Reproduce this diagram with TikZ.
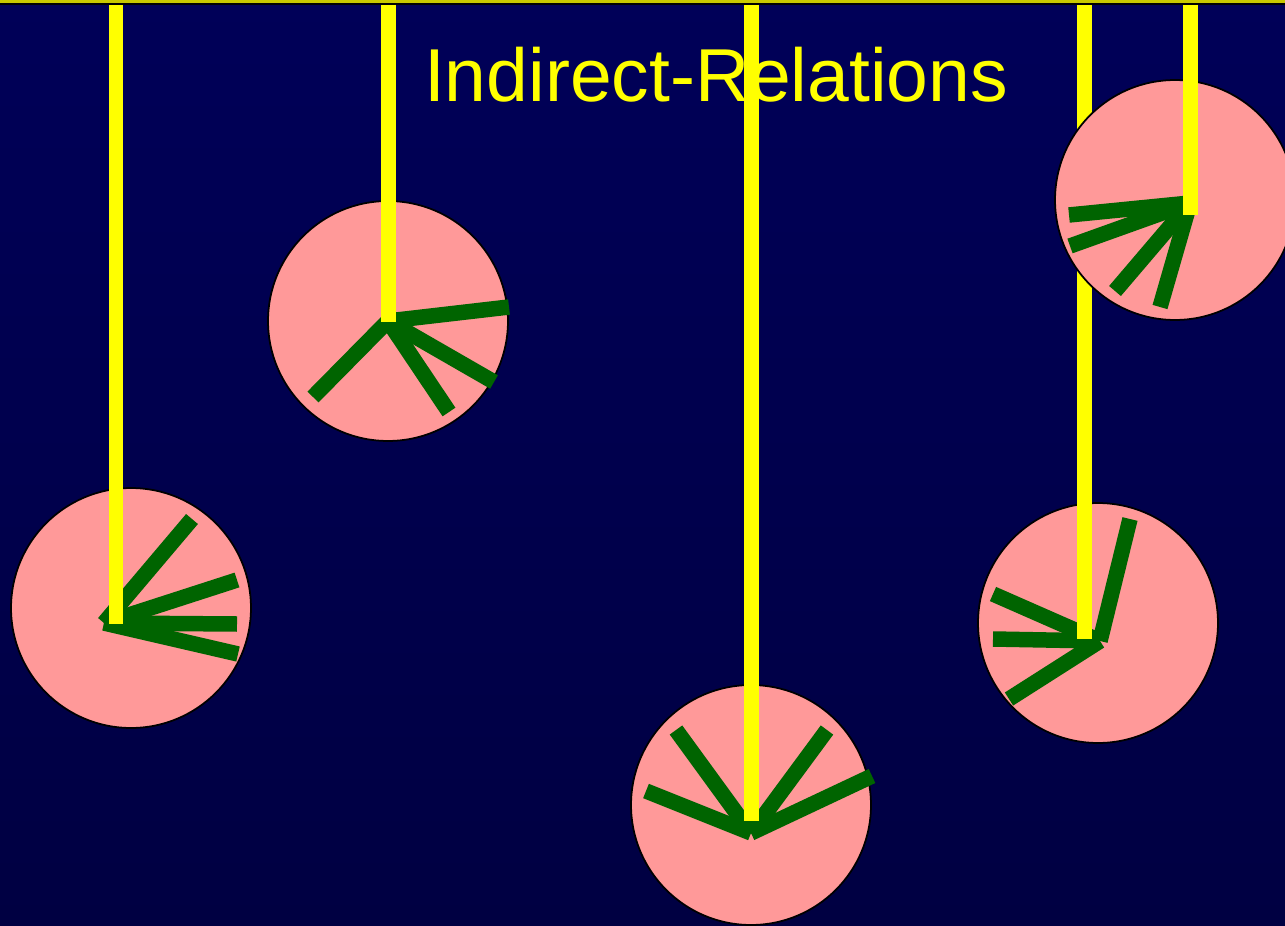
\documentclass[tikz,border=0pt]{standalone}
\usepackage{fontspec}
\setmainfont{Liberation Sans}
\usetikzlibrary{positioning, calc}
\definecolor{bgtop}{RGB}{0, 0, 88}
\definecolor{bgmid}{RGB}{0, 0, 102}
\definecolor{bgbottom}{RGB}{0, 0, 66}
\definecolor{stripolive}{RGB}{200, 200, 0}
\definecolor{ropeyellow}{RGB}{255, 255, 0}
\definecolor{diskpink}{RGB}{255, 153, 153}
\definecolor{spokegreen}{RGB}{0, 100, 0}
\tikzset{
    disk/.style={
        circle,
        draw=black,
        line width=1pt,
        fill=diskpink,
        minimum size=4.8cm,
        inner sep=0pt,
    },
    rope/.style={
        draw=ropeyellow,
        line width=0.3cm,
        line cap=butt,
    },
    spoke/.style={
        draw=spokegreen,
        line width=0.31cm,
        line cap=butt,
    },
    titletext/.style={
        font=\fontsize{42.7pt}{50pt}\selectfont,
        text=ropeyellow,
        inner sep=0pt,
    },
}

\begin{document}
\begin{tikzpicture}[x=0.02cm, y=-0.02cm]

% ===== Hintergrund =====
\useasboundingbox (0,0) rectangle (1285,926);
\clip (0,0) rectangle (1285,926);
\shade[top color=bgtop, middle color=bgmid, bottom color=bgbottom] (0,0) rectangle (1285,926);
\fill[stripolive] (0,0) rectangle (1285,3.5);
\fill[black] (0,3.5) rectangle (1285,5);
\coordinate (topedge) at (0,5);

% ===== Titel =====
\node[titletext, anchor=base] (title) at (716,102) {Indirect-Relations};

% ===== Scheiben =====
\node[disk] (disk1) at (131,608) {};
\node[disk] (disk2) at (388,321) {};
\node[disk] (disk3) at (751,805) {};
\node[disk] (disk4) at (1098,623) {};

% Naben
\coordinate (hub1) at (104,623);
\coordinate (hub2) at (388,321);
\coordinate (hub3) at (751,833);
\coordinate (hub4) at (1100,641);
\coordinate (hub5) at (1190,203);

% ===== Speichen =====
\foreach \p in {(192,519), (237,580), (237,624), (238,654)}
    \draw[spoke] (hub1) -- \p;
\foreach \p in {(509,307), (494,382), (449,412), (313,397)}
    \draw[spoke] (hub2) -- \p;
\foreach \p in {(646,791), (676,730), (827,730), (872,776)}
    \draw[spoke] (hub3) -- \p;
\foreach \p in {(1130,519), (993,594), (993,639), (1009,699)}
    \draw[spoke] (hub4) -- \p;

% ===== Seile =====
\coordinate (rope1) at (116,624);
\coordinate (rope2) at (388,322);
\coordinate (rope3) at (751.5,821);
\coordinate (rope4) at (1084,639);
\coordinate (rope5) at (1190,215);

\draw[rope] (rope1 |- topedge) -- (rope1);
\draw[rope] (rope2 |- topedge) -- (rope2);
\draw[rope] (rope3 |- topedge) -- (rope3);
\draw[rope] (rope4 |- topedge) -- (rope4);

% ===== Scheibe rechts oben (ueber Seil 4) =====
\node[disk] (disk5) at (1175,200) {};
\foreach \p in {(1069,215), (1070,246), (1115,291), (1160,307)}
    \draw[spoke] (hub5) -- \p;
\draw[rope] (rope5 |- topedge) -- (rope5);

\end{tikzpicture}
\end{document}
